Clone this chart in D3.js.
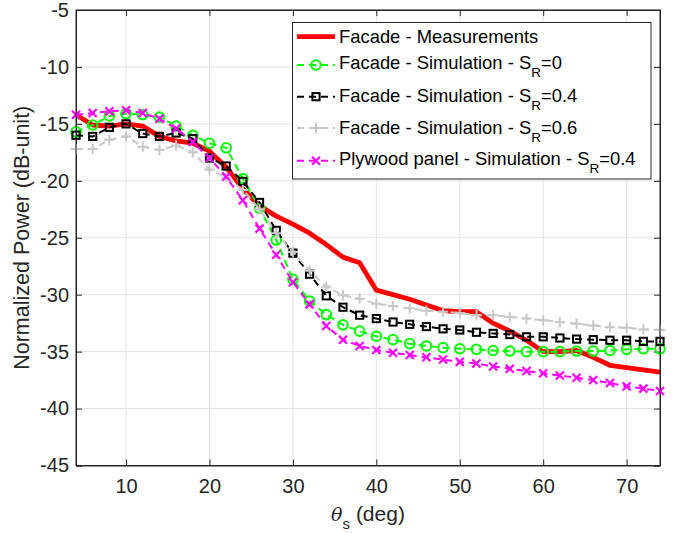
<!DOCTYPE html>
<html>
<head>
<meta charset="utf-8">
<script src="https://cdn.jsdelivr.net/npm/d3@7"></script>
<style>
  html, body { margin: 0; padding: 0; background: #fff; }
  svg { display: block; font-family: "Liberation Sans", Arial, Helvetica, sans-serif; }
</style>
</head>
<body>
<svg id="chart" width="678" height="533"></svg>
<script>
// ---------- data ----------
const angles = [4,6,8,10,12,14,16,18,20,22,24,26,28,30,32,34,36,38,40,42,44,46,48,50,52,54,56,58,60,62,64,66,68,70,72,74];

const measurements = [-14.2,-15.1,-15.2,-15.0,-15.2,-16.1,-16.5,-16.7,-17.4,-18.8,-20.7,-22.2,-23.1,-23.8,-24.6,-25.6,-26.7,-27.2,-29.6,-30.0,-30.4,-30.9,-31.4,-31.5,-31.5,-32.5,-33.2,-34.0,-35.0,-35.0,-34.9,-35.5,-36.2,-36.4,-36.6,-36.8];

const simSR0 = [-15.7,-15.1,-14.3,-14.1,-14.2,-14.4,-15.2,-16.0,-16.7,-17.1,-19.8,-22.4,-25.2,-28.65,-30.55,-31.75,-32.65,-33.2,-33.65,-33.95,-34.3,-34.5,-34.65,-34.75,-34.8,-34.9,-34.95,-35.0,-35.0,-35.0,-34.95,-34.95,-34.9,-34.8,-34.75,-34.75];

const simSR04 = [-16.0,-16.1,-15.3,-15.0,-15.85,-16.1,-15.8,-16.3,-18.0,-18.7,-20.05,-21.9,-24.35,-26.35,-28.2,-30.1,-31.1,-31.8,-32.1,-32.4,-32.6,-32.8,-33.0,-33.1,-33.3,-33.4,-33.5,-33.7,-33.7,-33.8,-33.9,-33.95,-34.0,-34.0,-34.1,-34.1];

const simSR06 = [-17.2,-17.2,-16.4,-16.1,-17.0,-17.3,-16.9,-17.5,-19.0,-19.7,-20.8,-22.5,-24.6,-26.25,-27.9,-29.3,-30.05,-30.35,-30.8,-31.0,-31.2,-31.4,-31.5,-31.6,-31.8,-31.8,-31.95,-32.1,-32.25,-32.4,-32.55,-32.7,-32.85,-32.9,-33.05,-33.1];

const plywoodSR04 = [-14.2,-14.05,-13.9,-13.8,-14.05,-14.55,-15.4,-16.6,-18.0,-19.65,-21.7,-24.2,-26.5,-28.9,-30.85,-32.75,-33.95,-34.5,-34.85,-35.1,-35.3,-35.5,-35.7,-35.9,-36.05,-36.3,-36.5,-36.7,-36.9,-37.1,-37.3,-37.5,-37.75,-38.05,-38.25,-38.45];

const xTicks = [10,20,30,40,50,60,70];
const yTicks = [-45,-40,-35,-30,-25,-20,-15,-10,-5];

const seriesNames = ["Facade - Measurements","Facade - Simulation - S","Facade - Simulation - S","Facade - Simulation - S","Plywood panel - Simulation - S"];
const seriesSuffix = ["", "=0", "=0.4", "=0.6", "=0.4"];
const seriesColors = ["#ff0000","#00ff00","#000000","#c8c8c8","#ff00ff"];
const seriesMarkers = ["none","circle","square","plus","cross"];

// ---------- layout ----------
const svg = d3.select("#chart");
const L = 76, R = 660, T = 10, B = 465.5;
const x = d3.scaleLinear().domain([4,74]).range([L,R]);
const y = d3.scaleLinear().domain([-45,-5]).range([B,T]);
const fmt = d => String(d);

svg.append("rect").attr("x",0).attr("y",0).attr("width",678).attr("height",533).attr("fill","#fff");

// grid
const grid = svg.append("g").attr("stroke","#e3e3e3").attr("stroke-width",1);
xTicks.forEach(t => grid.append("line").attr("x1",x(t)).attr("x2",x(t)).attr("y1",T).attr("y2",B));
yTicks.forEach(t => grid.append("line").attr("x1",L).attr("x2",R).attr("y1",y(t)).attr("y2",y(t)));

// axes via d3
const axisColor = "#262626";
const gx = svg.append("g").attr("transform",`translate(0,${B})`)
  .call(d3.axisBottom(x).tickValues(xTicks).tickSize(-6).tickPadding(13).tickFormat(fmt));
const gxt = svg.append("g").attr("transform",`translate(0,${T})`)
  .call(d3.axisTop(x).tickValues(xTicks).tickSize(-6).tickFormat(""));
const gy = svg.append("g").attr("transform",`translate(${L},0)`)
  .call(d3.axisLeft(y).tickValues(yTicks).tickSize(-6).tickPadding(7).tickFormat(fmt));
const gyr = svg.append("g").attr("transform",`translate(${R},0)`)
  .call(d3.axisRight(y).tickValues(yTicks).tickSize(-6).tickFormat(""));
[gx,gxt,gy,gyr].forEach(g => {
  g.selectAll(".domain").attr("stroke",axisColor).attr("stroke-width",1);
  g.selectAll(".tick line").attr("stroke",axisColor).attr("stroke-width",1);
  g.selectAll("text").attr("fill","#262626").style("font-size","20px").style("font-family","'Liberation Sans', Arial, sans-serif");
});

// ---------- series ----------
const allSeries = [measurements, simSR0, simSR04, simSR06, plywoodSR04];
const line = d3.line().x((d,i)=>x(angles[i])).y(d=>y(d));
const plot = svg.append("g");

function drawMarker(g, type, cx, cy, color) {
  if (type === "circle") {
    g.append("circle").attr("cx",cx).attr("cy",cy).attr("r",4.8).attr("fill","none").attr("stroke",color).attr("stroke-width",2);
  } else if (type === "square") {
    g.append("rect").attr("x",cx-3.6).attr("y",cy-3.6).attr("width",7.2).attr("height",7.2).attr("fill","none").attr("stroke",color).attr("stroke-width",2);
  } else if (type === "plus") {
    g.append("path").attr("d",`M${cx-5.2},${cy}H${cx+5.2}M${cx},${cy-5.2}V${cy+5.2}`).attr("stroke",color).attr("stroke-width",2).attr("fill","none");
  } else if (type === "cross") {
    g.append("path").attr("d",`M${cx-4},${cy-4}L${cx+4},${cy+4}M${cx-4},${cy+4}L${cx+4},${cy-4}`).attr("stroke",color).attr("stroke-width",2.2).attr("fill","none");
  }
}

allSeries.forEach((vals, si) => {
  const color = seriesColors[si];
  const g = plot.append("g");
  g.append("path").datum(vals).attr("d",line).attr("fill","none").attr("stroke",color)
    .attr("stroke-width", si === 0 ? 4.8 : 2)
    .attr("stroke-dasharray", si === 0 ? null : "7,5")
    .attr("stroke-linejoin","round");
  if (seriesMarkers[si] !== "none") {
    vals.forEach((v,i) => drawMarker(g, seriesMarkers[si], x(angles[i]), y(v), color));
  }
});

// axis box redraw on top
svg.append("rect").attr("x",L).attr("y",T).attr("width",R-L).attr("height",B-T).attr("fill","none").attr("stroke",axisColor).attr("stroke-width",1);

// ---------- labels ----------
svg.append("text").attr("transform",`translate(22,${(T+B)/2}) rotate(-90)`)
  .attr("text-anchor","middle").attr("dominant-baseline","central")
  .style("font-size","21.5px").attr("fill","#262626").text("Normalized Power (dB-unit)");

const xl = svg.append("text").attr("x",(L+R)/2).attr("y",521).attr("text-anchor","middle")
  .style("font-size","21px").attr("fill","#262626");
xl.append("tspan").style("font-family","'DejaVu Serif', 'Liberation Serif', serif").style("font-style","italic").style("font-size","19px").text("θ");
xl.append("tspan").attr("dy",8).style("font-size","15px").text("s");
xl.append("tspan").attr("dy",-8).text(" (deg)");

// ---------- legend ----------
const lg = svg.append("g");
lg.append("rect").attr("x",292.5).attr("y",22.5).attr("width",358.5).attr("height",156.5).attr("fill","#fff").attr("stroke",axisColor).attr("stroke-width",1);
const markerY = [36.7, 65, 96.7, 128, 160.7];
const baseY = [43.3, 69, 101.7, 134, 165];
seriesNames.forEach((name, si) => {
  const color = seriesColors[si];
  const my = markerY[si];
  lg.append("line").attr("x1",297).attr("x2",335).attr("y1",my).attr("y2",my).attr("stroke",color)
    .attr("stroke-width", si === 0 ? 4.8 : 2).attr("stroke-dasharray", si === 0 ? null : "7,5");
  if (seriesMarkers[si] !== "none") drawMarker(lg, seriesMarkers[si], 316, my, color);
  const t = lg.append("text").attr("x",339).attr("y",baseY[si]).style("font-size","18.4px").attr("fill","#000");
  t.append("tspan").text(name);
  if (seriesSuffix[si]) {
    t.append("tspan").attr("dy",8).style("font-size","13.5px").text("R");
    t.append("tspan").attr("dy",-8).text(seriesSuffix[si]);
  }
});
</script>
</body>
</html>
